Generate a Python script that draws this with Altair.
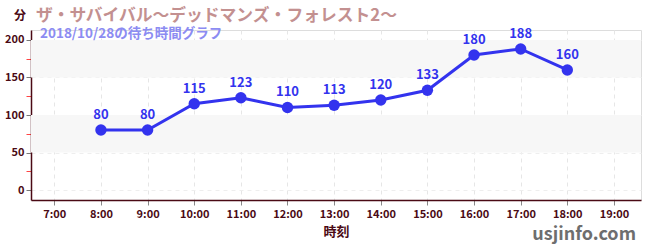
import altair as alt
import pandas as pd

hours = [8, 9, 10, 11, 12, 13, 14, 15, 16, 17, 18]
waits = [80, 80, 115, 123, 110, 113, 120, 133, 180, 188, 160]
band_lo = [50, 150]
band_hi = [100, 200]
x_ticks = [7, 8, 9, 10, 11, 12, 13, 14, 15, 16, 17, 18, 19]
y_ticks = [0, 25, 50, 75, 100, 125, 150, 175, 200]

title_text = "ザ・サバイバル〜デッドマンズ・フォレスト2〜"
subtitle_text = "2018/10/28の待ち時間グラフ"
unit_text = "分"
site_text = "usjinfo.com"
xtitle = "時刻"

W, H = 610, 170
FONT = "Noto Sans CJK JP"
MAROON = "#4a0a14"
BLUE = "#3333ee"

df = pd.DataFrame({"h": hours, "w": waits})
bands = pd.DataFrame({"lo": band_lo, "hi": band_hi})

xscale = alt.Scale(domain=[6.5, 19.58], nice=False, zero=False)
yscale = alt.Scale(domain=[-13.3, 213.3], nice=False, zero=False)

xaxis = alt.Axis(
    values=x_ticks,
    labelExpr="datum.value + ':00'",
    title=xtitle,
    titleFont=FONT, titleFontSize=13, titleFontWeight="bold", titleColor=MAROON,
    titlePadding=6,
    labelFont=FONT, labelFontSize=11, labelFontWeight="bold", labelColor=MAROON,
    domainColor=MAROON, domainWidth=1.5, tickColor="#888888", tickSize=5,
    grid=True, gridColor="#e6e6e6", gridDash=[4, 4],
    labelPadding=3,
)
yaxis = alt.Axis(
    values=y_ticks,
    labelExpr="datum.value % 50 == 0 ? datum.label : ''",
    title=None,
    labelFont=FONT, labelFontSize=11, labelFontWeight="bold", labelColor=MAROON,
    domainColor=MAROON, domainWidth=1.5,
    tickColor={"condition": {"test": "datum.value % 50 == 0", "value": "#777777"},
               "value": "#ff4444"},
    tickSize=5,
    grid=True, gridDash=[4, 4],
    gridColor={"condition": {"test": "datum.value % 50 == 0", "value": "#eeeeee"},
               "value": "transparent"},
    labelPadding=2,
)

band_layer = alt.Chart(bands).mark_rect(color="#f7f7f7").encode(
    x=alt.value(0), x2=alt.value(W),
    y=alt.Y("lo:Q", scale=yscale, axis=yaxis), y2="hi:Q",
)

base = alt.Chart(df).encode(
    x=alt.X("h:Q", scale=xscale, axis=xaxis),
    y=alt.Y("w:Q", scale=yscale, axis=yaxis),
)
line = base.mark_line(color=BLUE, strokeWidth=3)
pts = base.mark_circle(color=BLUE, size=130, opacity=1)
labels = base.mark_text(color=BLUE, font=FONT, fontSize=13, fontWeight="bold", dy=-15).encode(
    text="w:Q")

def txt(s, x, y, size, color, weight="bold", align="left"):
    return alt.Chart(pd.DataFrame({"t": [s]})).mark_text(
        font=FONT, fontSize=size, fontWeight=weight, color=color, align=align,
        baseline="alphabetic").encode(text="t:N", x=alt.value(x), y=alt.value(y))

t1 = txt(title_text, 5, -9, 16.8, "#c39090")
t2 = txt(subtitle_text, 9, 8, 13.5, "#8c8cf2", weight="bold")
t3 = txt(unit_text, -17, -10, 12, MAROON)
t4 = txt(site_text, 605, 210, 18, "#6e6e6e", align="right")

chart = alt.layer(band_layer, line, pts, labels, t1, t2, t3, t4).properties(
    width=W, height=H,
    autosize=alt.AutoSizeParams(type="none"),
    padding={"left": 31, "top": 30, "right": 9, "bottom": 50},
).configure_view(stroke=None).configure(background="white")

chart.save("out.html", embed_options={"renderer": "svg", "actions": False})
